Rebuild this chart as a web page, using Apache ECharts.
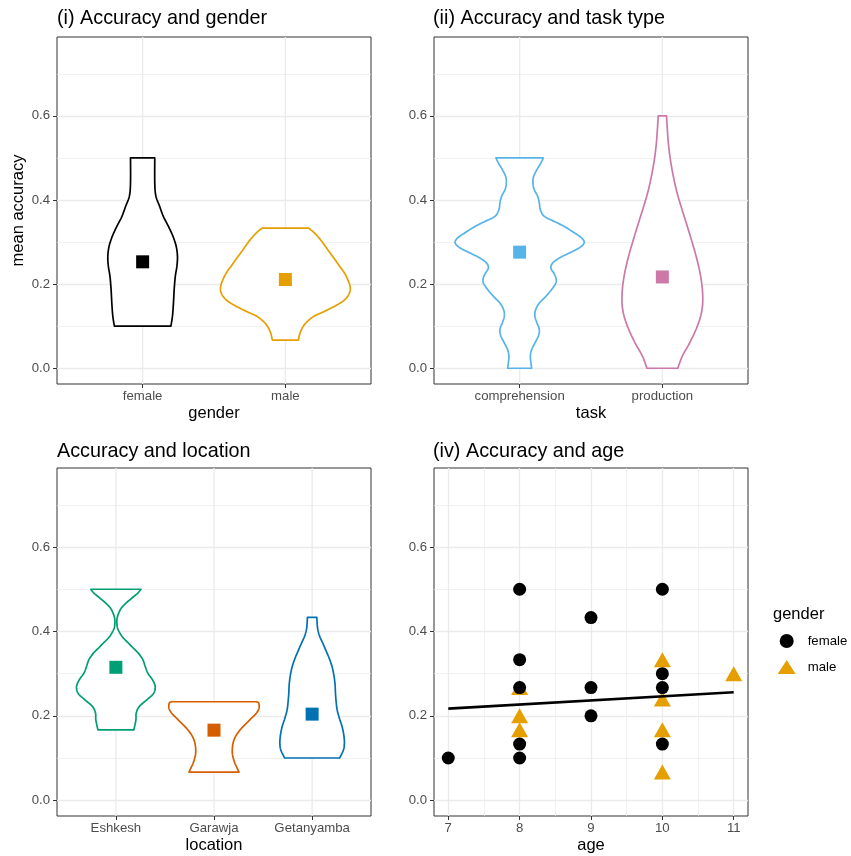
<!DOCTYPE html>
<html><head><meta charset="utf-8">
<script src="https://cdn.jsdelivr.net/npm/echarts@6/dist/echarts.min.js"></script>
<style>html,body{margin:0;padding:0;background:#fff}#c{width:851px;height:856px}</style>
</head><body><div id="c"></div>
<script>
// ---------------- data ----------------
const genderCats = ['female', 'male'];
const taskCats = ['comprehension', 'production'];
const locationCats = ['Eshkesh', 'Garawja', 'Getanyamba'];

const genderMeans = [0.253, 0.211];
const taskMeans = [0.276, 0.217];
const locationMeans = [0.315, 0.166, 0.204];

const genderColors = ['#000000', '#E69F00'];
const taskColors = ['#56B4E9', '#CC79A7'];
const locationColors = ['#009E73', '#D55E00', '#0072B2'];

// violin outlines: [mean accuracy, half width in category units]
const violinFemale = [[0.1,0.198],[0.124,0.209],[0.155,0.216],[0.187,0.221],[0.219,0.229],[0.242,0.240],[0.266,0.244],[0.29,0.235],[0.314,0.212],[0.337,0.181],[0.361,0.145],[0.385,0.119],[0.409,0.093],[0.44,0.085],[0.5,0.085]];
const violinMale = [[0.0667,0.091],[0.084,0.103],[0.1,0.126],[0.112,0.156],[0.124,0.203],[0.135,0.273],[0.147,0.343],[0.159,0.402],[0.171,0.437],[0.183,0.453],[0.195,0.453],[0.211,0.437],[0.227,0.413],[0.242,0.381],[0.258,0.348],[0.274,0.313],[0.29,0.28],[0.306,0.245],[0.322,0.203],[0.333,0.163]];
const violinComprehension = [[0,0.084],[0.013,0.079],[0.029,0.075],[0.044,0.084],[0.06,0.107],[0.076,0.131],[0.092,0.138],[0.108,0.121],[0.124,0.107],[0.139,0.112],[0.155,0.138],[0.171,0.184],[0.187,0.224],[0.203,0.254],[0.215,0.254],[0.227,0.238],[0.238,0.219],[0.25,0.231],[0.262,0.278],[0.274,0.348],[0.286,0.417],[0.298,0.452],[0.31,0.434],[0.322,0.383],[0.337,0.313],[0.349,0.243],[0.361,0.173],[0.377,0.145],[0.393,0.138],[0.409,0.126],[0.424,0.103],[0.44,0.093],[0.456,0.098],[0.472,0.121],[0.488,0.149],[0.5,0.166]];
const violinProduction = [[0,0.108],[0.029,0.14],[0.06,0.191],[0.1,0.245],[0.139,0.278],[0.179,0.282],[0.219,0.268],[0.258,0.243],[0.298,0.21],[0.337,0.175],[0.377,0.138],[0.417,0.103],[0.456,0.077],[0.496,0.056],[0.535,0.042],[0.567,0.035],[0.6,0.029]];
const violinEshkesh = [[0.1667,0.183],[0.19,0.204],[0.206,0.207],[0.222,0.238],[0.238,0.316],[0.253,0.384],[0.269,0.401],[0.285,0.374],[0.301,0.326],[0.317,0.299],[0.333,0.275],[0.348,0.231],[0.36,0.18],[0.372,0.129],[0.384,0.078],[0.396,0.041],[0.408,0.017],[0.42,0.01],[0.432,0.013],[0.443,0.028],[0.455,0.054],[0.467,0.102],[0.479,0.163],[0.491,0.224],[0.5,0.255]];
const violinGarawja = [[0.0667,0.255],[0.075,0.238],[0.087,0.214],[0.099,0.197],[0.111,0.187],[0.123,0.187],[0.135,0.194],[0.147,0.211],[0.158,0.238],[0.17,0.278],[0.182,0.329],[0.194,0.38],[0.206,0.431],[0.218,0.459],[0.23,0.456],[0.2333,0.433]];
const violinGetanyamba = [[0.1,0.28],[0.119,0.319],[0.135,0.329],[0.154,0.323],[0.174,0.306],[0.194,0.278],[0.214,0.255],[0.233,0.245],[0.253,0.238],[0.273,0.234],[0.293,0.224],[0.313,0.207],[0.333,0.18],[0.352,0.146],[0.372,0.109],[0.388,0.078],[0.404,0.058],[0.42,0.051],[0.4333,0.048]];

const yTicks = [0, 0.2, 0.4, 0.6];
const ageTicks = [7, 8, 9, 10, 11];

const femaleAge = [7, 8, 8, 8, 8, 8, 9, 9, 9, 10, 10, 10, 10];
const femaleAcc = [0.1, 0.5, 0.333, 0.267, 0.133, 0.1, 0.433, 0.267, 0.2, 0.5, 0.3, 0.267, 0.133];
const maleAge = [8, 8, 8, 10, 10, 10, 10, 11];
const maleAcc = [0.267, 0.2, 0.167, 0.333, 0.24, 0.167, 0.0667, 0.3];
const fitAge = [7, 11];
const fitAcc = [0.217, 0.256];

// ---------------- chart ----------------
const FONT = '"Liberation Sans", Arial, Helvetica, sans-serif';
const GRID_C = '#EBEBEB';

function spline(pts, n) {
  n = n || 6;
  const out = [];
  for (let i = 0; i < pts.length - 1; i++) {
    const p0 = pts[Math.max(i - 1, 0)], p1 = pts[i], p2 = pts[i + 1], p3 = pts[Math.min(i + 2, pts.length - 1)];
    for (let s = 0; s < n; s++) {
      const t = s / n, t2 = t * t, t3 = t2 * t;
      out.push([0, 1].map(d => 0.5 * ((2 * p1[d]) + (-p0[d] + p2[d]) * t +
        (2 * p0[d] - 5 * p1[d] + 4 * p2[d] - p3[d]) * t2 + (-p0[d] + 3 * p1[d] - 3 * p2[d] + p3[d]) * t3)));
    }
  }
  out.push(pts[pts.length - 1]);
  return out;
}

const gridBase = {show: true, borderColor: '#333333', borderWidth: 1, backgroundColor: '#fff', containLabel: false};
const grids = [
  Object.assign({left: 57, top: 37, width: 314, height: 347}, gridBase),
  Object.assign({left: 434, top: 37, width: 314, height: 347}, gridBase),
  Object.assign({left: 57, top: 468, width: 314, height: 348}, gridBase),
  Object.assign({left: 434, top: 468, width: 314, height: 348}, gridBase)
];

const tickStyle = {show: true, length: 4, lineStyle: {color: '#333333', width: 1}};
const labelStyle = {color: '#4D4D4D', fontSize: 13.2, fontFamily: FONT};
const nameStyle = {color: '#000', fontSize: 16.5, fontFamily: FONT};

function yAxisFor(i, name) {
  const a = {
    type: 'value', gridIndex: i, min: -0.0375, max: 0.7875, splitNumber: 4,
    axisLine: {show: false, onZero: false},
    axisTick: Object.assign({customValues: yTicks}, tickStyle),
    axisLabel: Object.assign({customValues: yTicks, formatter: v => Number(v).toFixed(1), margin: 7}, labelStyle),
    splitLine: {show: true, lineStyle: {color: GRID_C, width: 1.3}},
    minorTick: {show: false, splitNumber: 2},
    minorSplitLine: {show: true, lineStyle: {color: GRID_C, width: 0.7}}
  };
  if (name) {
    Object.assign(a, {name: name, nameLocation: 'middle', nameGap: 30, nameRotate: 90, nameTextStyle: nameStyle});
  }
  return a;
}

function catAxisFor(i, cats, name) {
  const pos = cats.map((c, k) => k + 1);
  return {
    type: 'value', gridIndex: i, min: 0.4, max: cats.length + 0.6,
    axisLine: {show: false, onZero: false}, splitLine: {show: false},
    axisTick: Object.assign({customValues: pos}, tickStyle),
    axisLabel: Object.assign({customValues: pos, margin: 6,
      formatter: v => { const k = Math.round(v) - 1; return Math.abs(v - k - 1) < 1e-6 && cats[k] ? cats[k] : ''; }}, labelStyle),
    name: name, nameLocation: 'middle', nameGap: 21, nameTextStyle: nameStyle
  };
}

const ageAxis = {
  type: 'value', gridIndex: 3, min: 6.8, max: 11.2, splitNumber: 4,
  axisLine: {show: false, onZero: false},
  axisTick: Object.assign({customValues: ageTicks}, tickStyle),
  axisLabel: Object.assign({customValues: ageTicks, margin: 6, formatter: v => String(v)}, labelStyle),
  splitLine: {show: true, lineStyle: {color: GRID_C, width: 1.3}},
  minorTick: {show: false, splitNumber: 2},
  minorSplitLine: {show: true, lineStyle: {color: GRID_C, width: 0.7}},
  name: 'age', nameLocation: 'middle', nameGap: 21, nameTextStyle: nameStyle
};

function vGridSeries(i, cats) {
  return {
    type: 'custom', xAxisIndex: i, yAxisIndex: i, z: 1, silent: true,
    data: cats.map((c, k) => [k + 1, 0]),
    renderItem: (params, api) => {
      const x = api.coord([api.value(0), 0])[0];
      const cs = params.coordSys;
      return {type: 'line', shape: {x1: x, y1: cs.y, x2: x, y2: cs.y + cs.height},
        style: {stroke: GRID_C, lineWidth: 1.3}};
    }
  };
}

function violinSeries(i, profiles, colors) {
  return {
    type: 'custom', xAxisIndex: i, yAxisIndex: i, z: 3, silent: true,
    data: profiles.map((p, k) => [k + 1, k]),
    renderItem: (params, api) => {
      const pos = api.value(0), k = api.value(1);
      const prof = profiles[k];
      const right = prof.map(p => api.coord([pos + p[1], p[0]]));
      const left = prof.slice().reverse().map(p => api.coord([pos - p[1], p[0]]));
      const pts = spline(right, 6).concat(spline(left, 6));
      return {type: 'polygon', shape: {points: pts},
        style: {fill: '#ffffff', stroke: colors[k], lineWidth: 1.7, lineJoin: 'round'}};
    }
  };
}

function meanSeries(i, means, colors) {
  return {
    type: 'scatter', xAxisIndex: i, yAxisIndex: i, z: 5, silent: true,
    symbol: 'rect', symbolSize: 13,
    data: means.map((m, k) => ({value: [k + 1, m], itemStyle: {color: colors[k], opacity: 1}}))
  };
}

const titleStyle = {fontSize: 19.8, fontWeight: 'normal', color: '#000', fontFamily: FONT};

const option = {
  animation: false,
  backgroundColor: '#ffffff',
  textStyle: {fontFamily: FONT},
  title: [
    {text: '(i) Accuracy and gender', left: 57, top: 9, padding: 0, textStyle: titleStyle},
    {text: '(ii) Accuracy and task type', left: 433, top: 9, padding: 0, textStyle: titleStyle},
    {text: 'Accuracy and location', left: 57, top: 442, padding: 0, textStyle: titleStyle},
    {text: '(iv) Accuracy and age', left: 433, top: 442, padding: 0, textStyle: titleStyle},
    {text: 'gender', left: 773, top: 606, padding: 0, textStyle: {fontSize: 16.5, fontWeight: 'normal', color: '#000', fontFamily: FONT}}
  ],
  legend: {
    data: ['female', 'male'], orient: 'vertical', left: 777.7, top: 634, padding: 0,
    itemWidth: 18, itemHeight: 14, itemGap: 12, symbolKeepAspect: false, selectedMode: false,
    itemStyle: {opacity: 1},
    textStyle: {fontSize: 13.2, color: '#000', fontFamily: FONT, padding: [0, 0, 0, 7]}
  },
  grid: grids,
  xAxis: [
    catAxisFor(0, genderCats, 'gender'),
    catAxisFor(1, taskCats, 'task'),
    catAxisFor(2, locationCats, 'location'),
    ageAxis
  ],
  yAxis: [yAxisFor(0, 'mean accuracy'), yAxisFor(1), yAxisFor(2), yAxisFor(3)],
  series: [
    vGridSeries(0, genderCats),
    vGridSeries(1, taskCats),
    vGridSeries(2, locationCats),
    violinSeries(0, [violinFemale, violinMale], genderColors),
    violinSeries(1, [violinComprehension, violinProduction], taskColors),
    violinSeries(2, [violinEshkesh, violinGarawja, violinGetanyamba], locationColors),
    meanSeries(0, genderMeans, genderColors),
    meanSeries(1, taskMeans, taskColors),
    meanSeries(2, locationMeans, locationColors),
    {
      name: 'male', type: 'scatter', xAxisIndex: 3, yAxisIndex: 3, z: 4,
      symbol: 'triangle', symbolSize: [17, 15], itemStyle: {color: '#E69F00', opacity: 1},
      data: maleAge.map((a, k) => [a, maleAcc[k]])
    },
    {
      name: 'female', type: 'scatter', xAxisIndex: 3, yAxisIndex: 3, z: 5,
      symbol: 'circle', symbolSize: 13, itemStyle: {color: '#000000', opacity: 1},
      data: femaleAge.map((a, k) => [a, femaleAcc[k]])
    },
    {
      name: 'fit', type: 'line', xAxisIndex: 3, yAxisIndex: 3, z: 6, silent: true,
      symbol: 'none', lineStyle: {color: '#000000', width: 2.6},
      data: fitAge.map((a, k) => [a, fitAcc[k]])
    }
  ]
};

const chart = echarts.init(document.getElementById('c'), null, {renderer: 'canvas'});
chart.setOption(option);
</script>
</body></html>
